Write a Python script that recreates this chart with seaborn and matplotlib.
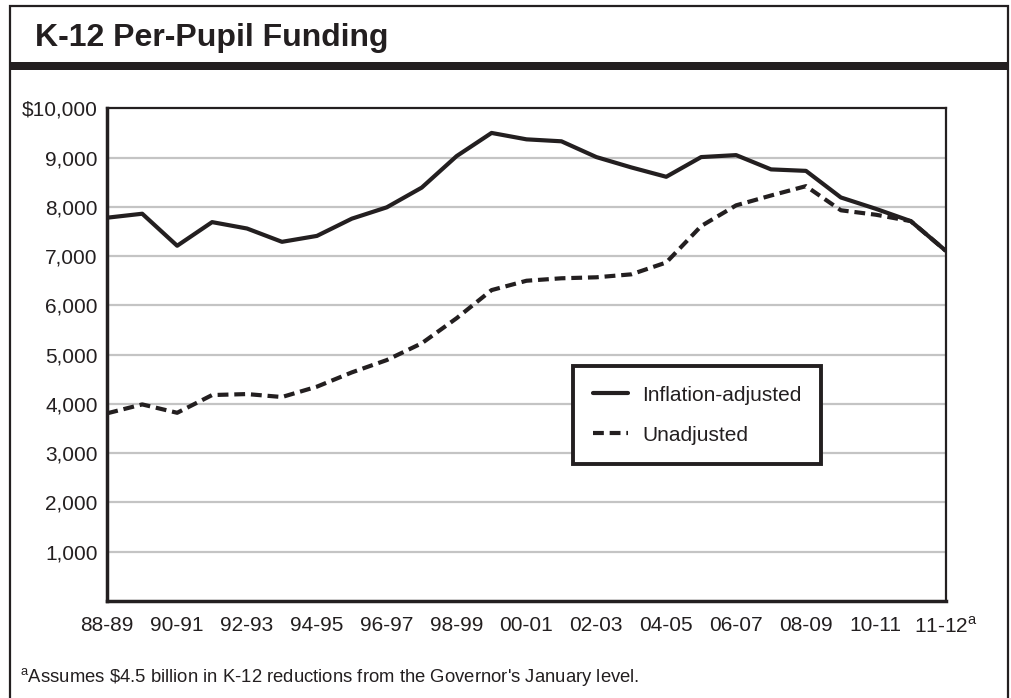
import matplotlib
matplotlib.use("Agg")
import matplotlib.pyplot as plt
from matplotlib.patches import Rectangle
import numpy as np
import pandas as pd
import seaborn as sns

# datos
years = ["88-89", "89-90", "90-91", "91-92", "92-93", "93-94", "94-95", "95-96",
         "96-97", "97-98", "98-99", "99-00", "00-01", "01-02", "02-03", "03-04",
         "04-05", "05-06", "06-07", "07-08", "08-09", "09-10", "10-11", "11-12 est", "11-12"]
inflation_adjusted = [7780, 7860, 7210, 7690, 7560, 7290, 7410, 7760, 7990, 8390,
                      9030, 9500, 9370, 9330, 9010, 8800, 8610, 9010, 9050, 8760,
                      8730, 8190, 7960, 7710, 7110]
unadjusted = [3810, 3990, 3820, 4180, 4200, 4140, 4350, 4640, 4890, 5230,
              5740, 6310, 6500, 6550, 6570, 6630, 6870, 7610, 8030, 8230,
              8420, 7930, 7840, 7710, 7110]
tick_labels = ["88-89", "90-91", "92-93", "94-95", "96-97", "98-99", "00-01",
               "02-03", "04-05", "06-07", "08-09", "10-11", r"11-12$^{\mathrm{a}}$"]
y_ticks = [1000, 2000, 3000, 4000, 5000, 6000, 7000, 8000, 9000, 10000]
y_labels = ["1,000", "2,000", "3,000", "4,000", "5,000", "6,000", "7,000",
            "8,000", "9,000", "$10,000"]

sns.set_style("white")
plt.rcParams['font.family'] = ['Liberation Sans', 'DejaVu Sans']
plt.rcParams['mathtext.fontset'] = 'custom'
plt.rcParams['mathtext.rm'] = 'Liberation Sans'

ink = "#231f20"
fs = 15

n = len(years)
df = pd.DataFrame({
    "pos": list(range(n)) * 2,
    "valor": inflation_adjusted + unadjusted,
    "serie": ["Inflation-adjusted"] * n + ["Unadjusted"] * n,
})

fig = plt.figure(figsize=(10.11, 6.98), dpi=100)
W, H = 1011, 698
ax = fig.add_axes([107.3 / W, (H - 601) / H, 838.4 / W, 492.7 / H])

sns.lineplot(data=df, x="pos", y="valor", hue="serie", style="serie",
             palette={"Inflation-adjusted": ink, "Unadjusted": ink},
             dashes={"Inflation-adjusted": "", "Unadjusted": (2.6, 1.4)},
             linewidth=3.0, ax=ax, zorder=3)

ax.set_xlim(0, n - 1)
ax.set_ylim(0, 10000)
ax.set_xticks(range(n))
labels_x = [""] * n
for i, lab in zip(list(range(0, 23, 2)) + [24], tick_labels):
    labels_x[i] = lab
ax.set_xticklabels(labels_x, fontsize=fs, color=ink)
ax.set_yticks(y_ticks)
ax.set_yticklabels(y_labels, fontsize=fs, color=ink)
ax.set_xlabel("")
ax.set_ylabel("")
ax.tick_params(axis="x", direction="out", length=5, width=2, pad=6, color=ink)
ax.tick_params(axis="y", direction="out", length=4, width=1.5, pad=3, color=ink)
for y in y_ticks[:-1]:
    ax.axhline(y, color="#c4c4c4", lw=1.6, zorder=1)

for side in ["left", "bottom"]:
    ax.spines[side].set_linewidth(2.5)
    ax.spines[side].set_color(ink)
for side in ["top", "right"]:
    ax.spines[side].set_linewidth(1.6)
    ax.spines[side].set_color(ink)

handles, labels = ax.get_legend_handles_labels()
leg = ax.legend(handles, labels, loc="upper left", bbox_to_anchor=(0.5555, 0.477),
                borderaxespad=0, frameon=True, fancybox=False, framealpha=1,
                fontsize=fs, handlelength=1.7, handletextpad=0.67,
                labelspacing=1.0, borderpad=0.95)
leg.get_frame().set_edgecolor(ink)
leg.get_frame().set_linewidth(2.8)
for t in leg.get_texts():
    t.set_color(ink)

# marco exterior y titulo
fig.patches.append(Rectangle((10 / W, -0.01), 998 / W, (H - 6) / H + 0.01,
                             transform=fig.transFigure, fill=False,
                             edgecolor=ink, lw=1.6))
fig.patches.append(Rectangle((10 / W, (H - 70) / H), 998 / W, 8 / H,
                             transform=fig.transFigure, facecolor=ink,
                             edgecolor="none"))
fig.text(35 / W, (H - 46) / H, "K-12 Per-Pupil Funding", fontsize=23,
         fontweight="bold", color=ink, va="baseline")
fig.text(20 / W, (H - 682) / H,
         r"$^{\mathrm{a}}$Assumes \$4.5 billion in K-12 reductions from the Governor's January level.",
         fontsize=13.3, color=ink, va="baseline")

fig.savefig("out.png", dpi=100)
